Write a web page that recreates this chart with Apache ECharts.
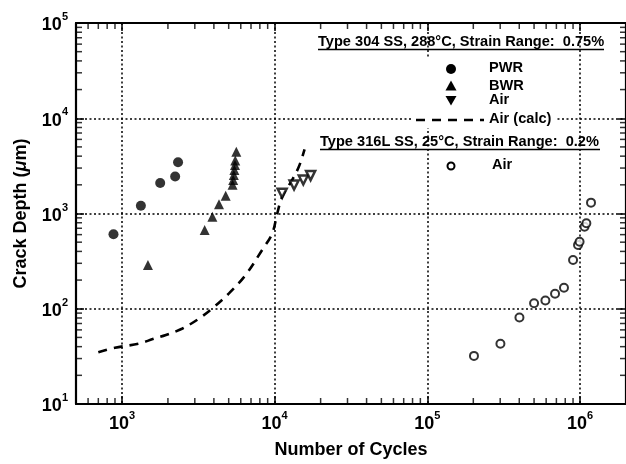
<!DOCTYPE html>
<html>
<head>
<meta charset="utf-8">
<script src="https://cdn.jsdelivr.net/npm/echarts@6/dist/echarts.min.js"></script>
<style>
  html, body { margin: 0; padding: 0; background: #fff; }
  #chart { width: 626px; height: 464px; }
</style>
</head>
<body>
<div id="chart"></div>
<script>
// Crack depth vs. number of cycles, log-log.
const FONT = '"Liberation Sans", Arial, Helvetica, sans-serif';

// Axis ranges and decade labels (exponents of 10)
const xRange = [500, 2000000];
const yRange = [10, 100000];
const xTickExponents = [3, 4, 5, 6];
const yTickExponents = [1, 2, 3, 4, 5];
const minorMultipliers = [2, 3, 4, 5, 6, 7, 8, 9];
const xDecades = [100, 1000, 10000, 100000, 1000000];
const yDecades = [10, 100, 1000, 10000];

// Type 304 SS, 288°C, strain range 0.75%
const pwrCycles = [880, 1330, 1780, 2230, 2330];
const pwrDepth  = [605, 1205, 2090, 2450, 3450];

const bwrCycles = [1480, 3480, 3910, 4320, 4780, 5300, 5350, 5400, 5450, 5500, 5520, 5610];
const bwrDepth  = [288, 671, 925, 1250, 1540, 2000, 2250, 2540, 2860, 3230, 3600, 4460];

const air304Cycles = [11200, 13400, 15400, 17200];
const air304Depth  = [1630, 1990, 2250, 2500];

const airCalcCycles = [700, 900, 1290, 1590, 1940, 2490, 3200, 3910, 5020, 6450, 8280, 9640, 10400, 11200, 13000, 14400, 15700];
const airCalcDepth  = [35, 39, 43, 48, 53, 62, 79, 101, 145, 226, 414, 617, 1000, 1500, 2240, 3090, 4700];

// Type 316L SS, 25°C, strain range 0.2%
const air316Cycles = [202000, 301000, 401000, 500000, 593000, 686000, 785000, 900000, 970000, 993000, 1070000, 1100000, 1180000];
const air316Depth  = [32, 43, 81, 114, 122, 144, 166, 325, 467, 505, 727, 789, 1300];

const pairs = (xs, ys) => xs.map((x, i) => [x, ys[i]]);

const minorValues = (decades, range) => {
  const out = [];
  decades.forEach(d => minorMultipliers.forEach(m => {
    const v = d * m;
    if (v > range[0] && v < range[1]) out.push(v);
  }));
  return out;
};
const xMinor = minorValues(xDecades, xRange);
const yMinor = minorValues(yDecades, yRange);

const labelRich = {
  b: { fontSize: 18, fontWeight: 'bold', fontFamily: FONT, color: '#000', padding: [5, 0, 0, 0], verticalAlign: 'bottom' },
  s: { fontSize: 11, fontWeight: 'bold', fontFamily: FONT, color: '#000', verticalAlign: 'top' }
};
const powLabel = exps => v => {
  const e = Math.round(Math.log10(v));
  if (Math.abs(Math.pow(10, e) - v) > 1e-6 * v || exps.indexOf(e) < 0) return '';
  return '{b|10}{s|' + e + '}';
};

const AXIS_LINE = { show: true, lineStyle: { color: '#000', width: 2.2 } };
const MAJOR_TICK = { show: true, inside: true, length: 8, lineStyle: { color: '#000', width: 1.5 } };
const GRID_LINE = { show: true, lineStyle: { color: '#000', width: 1.5, type: [2, 2.5] } };
const TICK_LEN = 6;

// Minor tick marks along the frame, placed through the axes' own scales
const tickSeries = (data, size, offset) => ({
  type: 'scatter', data, symbol: 'rect', symbolSize: size, symbolOffset: offset,
  silent: true, z: 5, clip: false, itemStyle: { color: '#000' }
});

const TEXT = (x, y, text, size) => ({
  type: 'text', z: 11,
  style: { x, y, text, font: 'bold ' + (size || 14.6) + 'px ' + FONT, fill: '#000', verticalAlign: 'middle', align: 'left' }
});
const LINE = (x1, y1, x2, y2, w, dash) => ({
  type: 'line', z: 11,
  shape: { x1, y1, x2, y2 },
  style: { stroke: '#000', lineWidth: w || 1.5, lineDash: dash || null }
});

const chart = echarts.init(document.getElementById('chart'), null, { renderer: 'canvas' });
chart.setOption({
  animation: false,
  backgroundColor: '#fff',
  grid: { left: 76, top: 23, width: 552, height: 381, containLabel: false },
  xAxis: [
    {
      type: 'log', min: xRange[0], max: xRange[1], position: 'bottom',
      axisLine: AXIS_LINE, axisTick: MAJOR_TICK, splitLine: GRID_LINE,
      minorTick: { show: false }, minorSplitLine: { show: false },
      axisLabel: { formatter: powLabel(xTickExponents), rich: labelRich, margin: 6, showMinLabel: false, showMaxLabel: false },
      name: 'Number of Cycles', nameLocation: 'middle', nameGap: 37,
      nameTextStyle: { fontFamily: FONT, fontWeight: 'bold', fontSize: 18, color: '#000' }
    },
    {
      type: 'log', min: xRange[0], max: xRange[1], position: 'top',
      axisLine: AXIS_LINE, axisTick: MAJOR_TICK, splitLine: { show: false },
      axisLabel: { show: false }
    }
  ],
  yAxis: [
    {
      type: 'log', min: yRange[0], max: yRange[1], position: 'left',
      axisLine: AXIS_LINE, axisTick: MAJOR_TICK, splitLine: GRID_LINE,
      axisLabel: { formatter: powLabel(yTickExponents), rich: labelRich, margin: 8 },
      name: '{a|Crack Depth (}{i|μ}{a|m)}', nameLocation: 'middle', nameGap: 46, nameRotate: 90,
      nameTextStyle: {
        rich: {
          a: { fontFamily: FONT, fontWeight: 'bold', fontSize: 18, color: '#000' },
          i: { fontFamily: FONT, fontWeight: 'bold', fontStyle: 'italic', fontSize: 18, color: '#000' }
        }
      }
    },
    {
      type: 'log', min: yRange[0], max: yRange[1], position: 'right',
      axisLine: AXIS_LINE, axisTick: MAJOR_TICK, splitLine: { show: false },
      axisLabel: { show: false }
    }
  ],
  series: [
    {
      name: 'Air (calc)', type: 'line', data: pairs(airCalcCycles, airCalcDepth),
      showSymbol: false, symbol: 'none', smooth: 0.35, z: 3,
      lineStyle: { color: '#000', width: 2.6, type: [9, 7] }
    },
    {
      name: 'PWR', type: 'scatter', data: pairs(pwrCycles, pwrDepth),
      symbol: 'circle', symbolSize: 10, z: 4,
      itemStyle: { color: '#000' }
    },
    {
      name: 'BWR', type: 'scatter', data: pairs(bwrCycles, bwrDepth),
      symbol: 'triangle', symbolSize: 10, z: 4,
      itemStyle: { color: '#000' }
    },
    {
      name: 'Air', type: 'scatter', data: pairs(air304Cycles, air304Depth),
      symbol: 'triangle', symbolSize: 9, symbolRotate: 180, z: 4,
      itemStyle: { color: '#fff', borderColor: '#000', borderWidth: 2.5 }
    },
    {
      name: 'Air 316L', type: 'scatter', data: pairs(air316Cycles, air316Depth),
      symbol: 'circle', symbolSize: 8, z: 4,
      itemStyle: { color: '#fff', borderColor: '#000', borderWidth: 2 }
    },
    tickSeries(xMinor.map(v => [v, yRange[0]]), [1.5, TICK_LEN], [0, -TICK_LEN / 2]),
    tickSeries(xMinor.map(v => [v, yRange[1]]), [1.5, TICK_LEN], [0, TICK_LEN / 2]),
    tickSeries(yMinor.map(v => [xRange[0], v]), [TICK_LEN, 1.5], [TICK_LEN / 2, 0]),
    tickSeries(yMinor.map(v => [xRange[1], v]), [TICK_LEN, 1.5], [-TICK_LEN / 2, 0])
  ],
  graphic: [
    // key block background
    { type: 'rect', z: 10, shape: { x: 413, y: 58, width: 142, height: 70 }, style: { fill: '#fff' } },
    TEXT(318, 42, 'Type 304 SS, 288°C, Strain Range:  0.75%'),
    LINE(318, 49.5, 604, 49.5, 1.4),
    { type: 'circle', z: 11, shape: { cx: 451, cy: 69, r: 5 }, style: { fill: '#000' } },
    TEXT(489, 68, 'PWR'),
    { type: 'polygon', z: 11, shape: { points: [[451, 80.5], [456.5, 90.5], [445.5, 90.5]] }, style: { fill: '#000' } },
    TEXT(489, 86, 'BWR'),
    { type: 'polygon', z: 11, shape: { points: [[445.5, 96], [456.5, 96], [451, 105.5]] }, style: { fill: '#000' } },
    TEXT(489, 100, 'Air'),
    LINE(416, 120, 484, 120, 2.6, [9, 7]),
    TEXT(489, 119, 'Air (calc)'),
    TEXT(320, 142, 'Type 316L SS, 25°C, Strain Range:  0.2%'),
    LINE(320, 149.5, 600, 149.5, 1.4),
    { type: 'circle', z: 11, shape: { cx: 451, cy: 166, r: 3.5 }, style: { fill: '#fff', stroke: '#000', lineWidth: 2 } },
    TEXT(492, 165, 'Air')
  ]
});
</script>
</body>
</html>
